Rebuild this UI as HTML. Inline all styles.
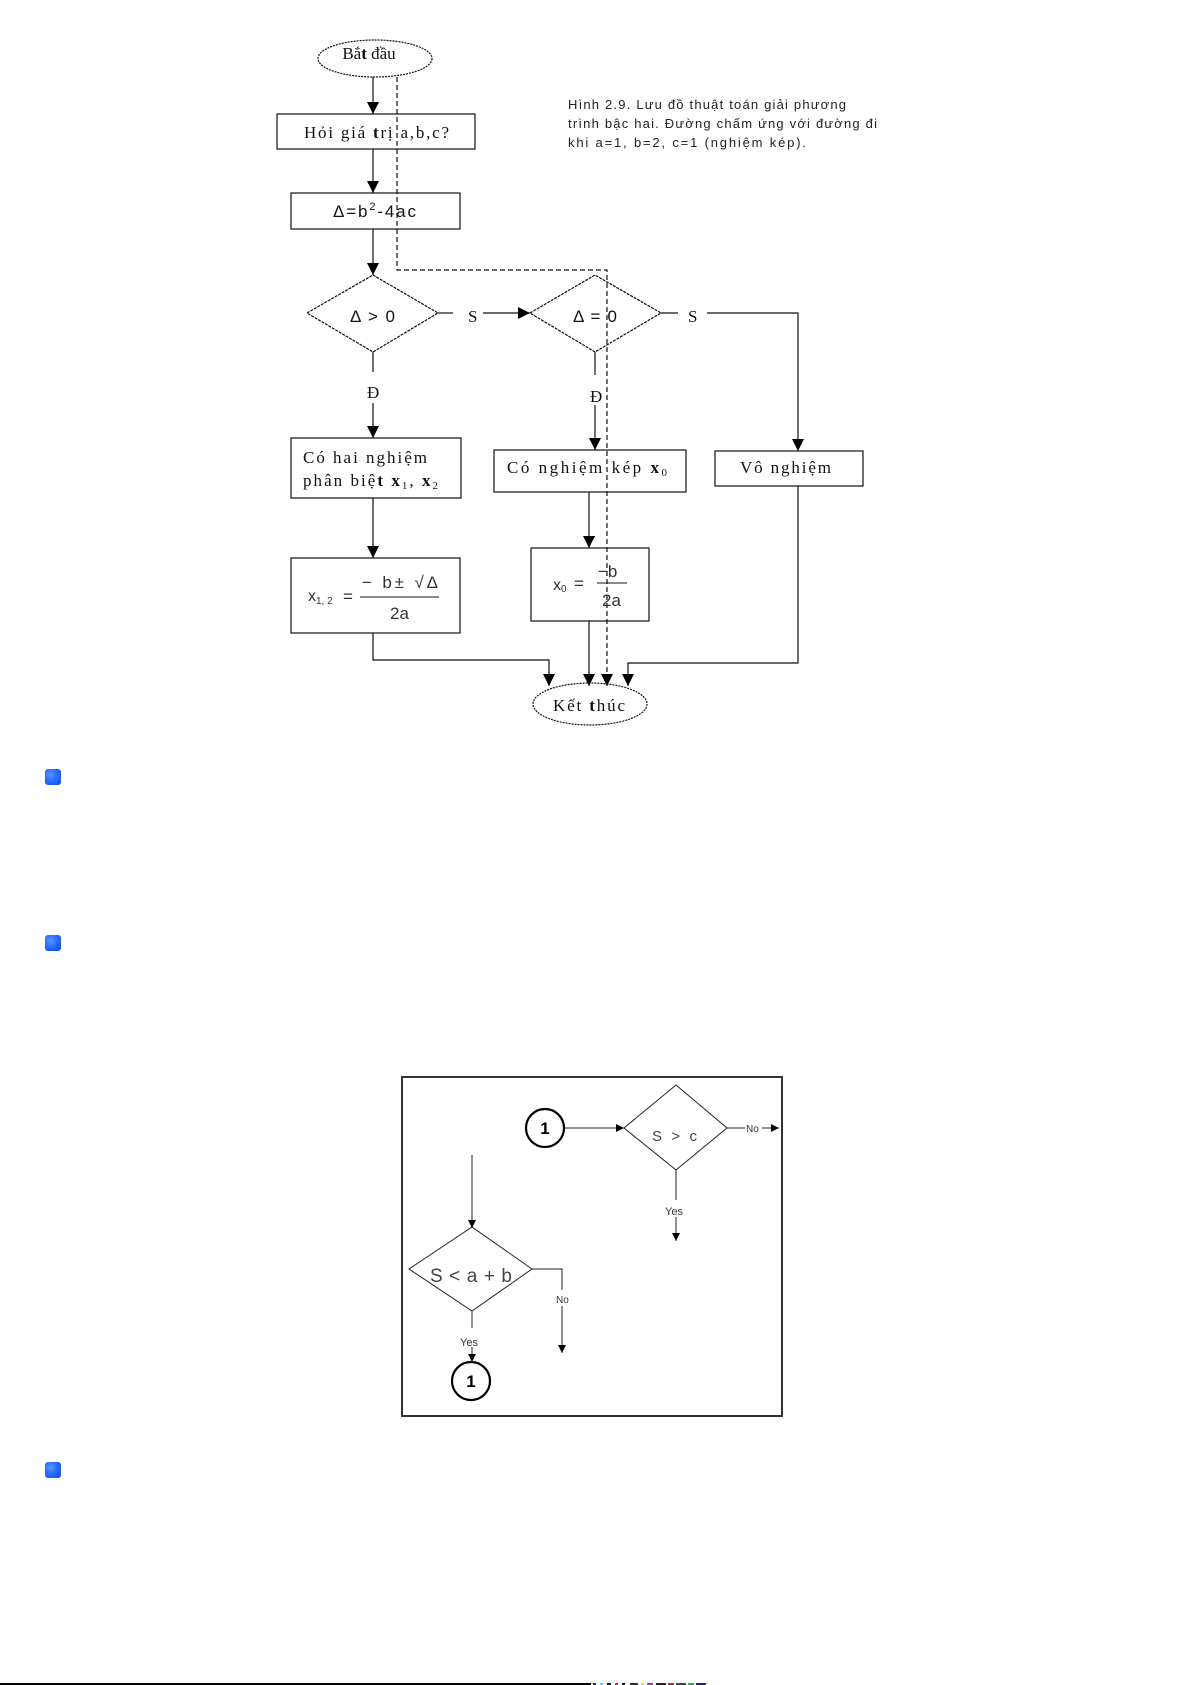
<!DOCTYPE html>
<html>
<head>
<meta charset="utf-8">
<style>
html,body{margin:0;padding:0;background:#fff;}
body{width:1191px;height:1685px;overflow:hidden;position:relative;}
svg{position:absolute;left:0;top:0;}
.bullet{position:absolute;left:45px;width:16px;height:16px;border-radius:3px;
background:radial-gradient(circle at 35% 35%,#5b95ff 0%,#2a6bff 45%,#0a4cf0 100%);}
</style>
</head>
<body>
<svg width="1191" height="1685" viewBox="0 0 1191 1685" xmlns="http://www.w3.org/2000/svg">
<defs>
<marker id="ah" markerWidth="12" markerHeight="12" refX="12" refY="6" orient="auto" markerUnits="userSpaceOnUse">
<path d="M0,0 L12,6 L0,12 Z" fill="#000"/>
</marker>
<marker id="as" markerWidth="8" markerHeight="8" refX="8" refY="4" orient="auto" markerUnits="userSpaceOnUse">
<path d="M0,0 L8,4 L0,8 Z" fill="#000"/>
</marker>
</defs>

<g fill="none" stroke="#111" stroke-width="1.2">
<!-- top flowchart shapes -->
<ellipse cx="375" cy="58.5" rx="57" ry="18.5" stroke-dasharray="2,1"/>
<rect x="277" y="114" width="198" height="35"/>
<rect x="291" y="193" width="169" height="36"/>
<polygon points="307,313 373,275 438,313 373,352" stroke-dasharray="3,1"/>
<polygon points="530,313 595,275 661,313 595,352" stroke-dasharray="3,1"/>
<rect x="291" y="438" width="170" height="60"/>
<rect x="494" y="450" width="192" height="42"/>
<rect x="715" y="451" width="148" height="35"/>
<rect x="291" y="558" width="169" height="75"/>
<rect x="531" y="548" width="118" height="73"/>
<ellipse cx="590" cy="704" rx="57" ry="21" stroke-dasharray="2,1"/>

<!-- connectors -->
<line x1="373" y1="77" x2="373" y2="114" marker-end="url(#ah)"/>
<line x1="373" y1="149" x2="373" y2="193" marker-end="url(#ah)"/>
<line x1="373" y1="229" x2="373" y2="275" marker-end="url(#ah)"/>
<line x1="438" y1="313" x2="453" y2="313"/>
<line x1="483" y1="313" x2="530" y2="313" marker-end="url(#ah)"/>
<line x1="661" y1="313" x2="678" y2="313"/>
<polyline points="707,313 798,313 798,451" marker-end="url(#ah)"/>
<line x1="373" y1="352" x2="373" y2="372"/>
<line x1="373" y1="403" x2="373" y2="438" marker-end="url(#ah)"/>
<line x1="595" y1="352" x2="595" y2="375"/>
<line x1="595" y1="405" x2="595" y2="450" marker-end="url(#ah)"/>
<line x1="373" y1="498" x2="373" y2="558" marker-end="url(#ah)"/>
<line x1="589" y1="492" x2="589" y2="548" marker-end="url(#ah)"/>
<polyline points="373,633 373,660 549,660 549,686" marker-end="url(#ah)"/>
<line x1="589" y1="621" x2="589" y2="686" marker-end="url(#ah)"/>
<polyline points="798,486 798,663 628,663 628,686" marker-end="url(#ah)"/>
<polyline points="397,77 397,270 607,270 607,686" stroke-dasharray="5,3" marker-end="url(#ah)"/>

<!-- formula fraction lines -->
<line x1="360" y1="597" x2="439" y2="597" stroke-width="1"/>
<line x1="597" y1="583" x2="627" y2="583" stroke-width="1"/>
</g>

<!-- top flowchart text -->
<g font-family="Liberation Serif, serif" fill="#111" font-size="17">
<text x="369" y="59" text-anchor="middle">Bắ<tspan font-weight="bold">t</tspan> đầu</text>
<text x="304" y="138" textLength="145">Hỏi giá <tspan font-weight="bold">t</tspan>rị a,b,c?</text>
<text x="468" y="322">S</text>
<text x="688" y="322">S</text>
<text x="367" y="398">Đ</text>
<text x="590" y="402">Đ</text>
<text x="303" y="463" textLength="124">Có hai nghiệm</text>
<text x="303" y="486" textLength="135">phân biệ<tspan font-weight="bold">t</tspan> <tspan font-weight="bold">x</tspan><tspan font-size="11" dy="3">1</tspan><tspan dy="-3">, </tspan><tspan font-weight="bold">x</tspan><tspan font-size="11" dy="3">2</tspan></text>
<text x="507" y="473" textLength="160">Có nghiệm kép <tspan font-weight="bold">x</tspan><tspan font-size="11" dy="3">0</tspan></text>
<text x="740" y="473" textLength="91">Vô nghiệm</text>
<text x="553" y="711" textLength="72">Kết <tspan font-weight="bold">t</tspan>húc</text>
</g>
<g font-family="Liberation Sans, sans-serif" fill="#111">
<text x="333" y="217" font-size="17" textLength="83">Δ=b<tspan font-size="11" dy="-7">2</tspan><tspan dy="7">-4ac</tspan></text>
<text x="350" y="322" font-size="17" textLength="45">Δ &gt; 0</text>
<text x="573" y="322" font-size="17" textLength="44">Δ = 0</text>
<!-- formula 1 -->
<text x="308" y="601" font-size="16" fill="#333">x<tspan font-size="10" dy="3">1, 2</tspan></text>
<text x="343" y="602" font-size="17" fill="#333">=</text>
<text x="362" y="588" font-size="17" fill="#333" textLength="76">− b± √Δ</text>
<text x="390" y="619" font-size="17" fill="#333">2a</text>
<!-- formula 2 -->
<text x="553" y="590" font-size="16" fill="#333">x<tspan font-size="10" dy="2">0</tspan></text>
<text x="574" y="589" font-size="17" fill="#333">=</text>
<text x="598" y="577" font-size="17" fill="#333">−b</text>
<text x="602" y="606" font-size="17" fill="#333">2a</text>
<!-- caption -->
<g font-size="13" fill="#222">
<text x="568" y="109" textLength="278">Hình 2.9. Lưu đồ thuật toán giải phương</text>
<text x="568" y="128" textLength="309">trình bậc hai. Đường chấm ứng với đường đi</text>
<text x="568" y="147" textLength="238">khi a=1, b=2, c=1 (nghiệm kép).</text>
</g>
</g>

<!-- bottom diagram -->
<rect x="402" y="1077" width="380" height="339" fill="none" stroke="#333" stroke-width="2"/>
<g fill="none" stroke="#222" stroke-width="1">
<circle cx="545" cy="1128" r="19" stroke="#000" stroke-width="2.2"/>
<circle cx="471" cy="1381" r="19" stroke="#000" stroke-width="2.2"/>
<polygon points="624,1128 676,1085 727,1128 676,1170"/>
<polygon points="409,1269 472,1227 532,1269 472,1311"/>
<line x1="565" y1="1128" x2="624" y2="1128" marker-end="url(#as)"/>
<line x1="727" y1="1128" x2="745" y2="1128"/>
<line x1="762" y1="1128" x2="779" y2="1128" marker-end="url(#as)"/>
<line x1="676" y1="1170" x2="676" y2="1200"/>
<line x1="676" y1="1217" x2="676" y2="1241" marker-end="url(#as)"/>
<line x1="472" y1="1155" x2="472" y2="1228" marker-end="url(#as)"/>
<polyline points="532,1269 562,1269 562,1290"/>
<line x1="562" y1="1306" x2="562" y2="1353" marker-end="url(#as)"/>
<line x1="472" y1="1311" x2="472" y2="1328"/>
<line x1="472" y1="1347" x2="472" y2="1362" marker-end="url(#as)"/>
</g>
<g font-family="Liberation Sans, sans-serif">
<text x="545" y="1134" font-size="17" font-weight="bold" text-anchor="middle" fill="#000">1</text>
<text x="471" y="1387" font-size="17" font-weight="bold" text-anchor="middle" fill="#000">1</text>
<text x="652" y="1141" font-size="15" fill="#444" textLength="45">S &gt; c</text>
<text x="430" y="1282" font-size="19" fill="#444" textLength="82">S &lt; a + b</text>
<text x="746" y="1132" font-size="10" fill="#333">No</text>
<text x="556" y="1303" font-size="10" fill="#333">No</text>
<text x="665" y="1215" font-size="11" fill="#333">Yes</text>
<text x="460" y="1346" font-size="11" fill="#333">Yes</text>
</g>

<!-- bottom strip -->
<rect x="0" y="1683" width="591" height="2" fill="#000"/>
<g>
<rect x="593" y="1683" width="3" height="2" fill="#223"/>
<rect x="600" y="1683" width="3" height="2" fill="#6cf"/>
<rect x="607" y="1683" width="4" height="2" fill="#111"/>
<rect x="615" y="1683" width="3" height="2" fill="#c33"/>
<rect x="622" y="1683" width="3" height="2" fill="#111"/>
<rect x="630" y="1683" width="8" height="2" fill="#333"/>
<rect x="641" y="1683" width="3" height="2" fill="#dd3"/>
<rect x="647" y="1683" width="6" height="2" fill="#a3a"/>
<rect x="656" y="1683" width="10" height="2" fill="#222"/>
<rect x="668" y="1683" width="6" height="2" fill="#a33"/>
<rect x="676" y="1683" width="10" height="2" fill="#444"/>
<rect x="688" y="1683" width="6" height="2" fill="#3a3"/>
<rect x="696" y="1683" width="10" height="2" fill="#226"/>
</g>
</svg>

<div class="bullet" style="top:769px"></div>
<div class="bullet" style="top:935px"></div>
<div class="bullet" style="top:1462px"></div>
</body>
</html>
